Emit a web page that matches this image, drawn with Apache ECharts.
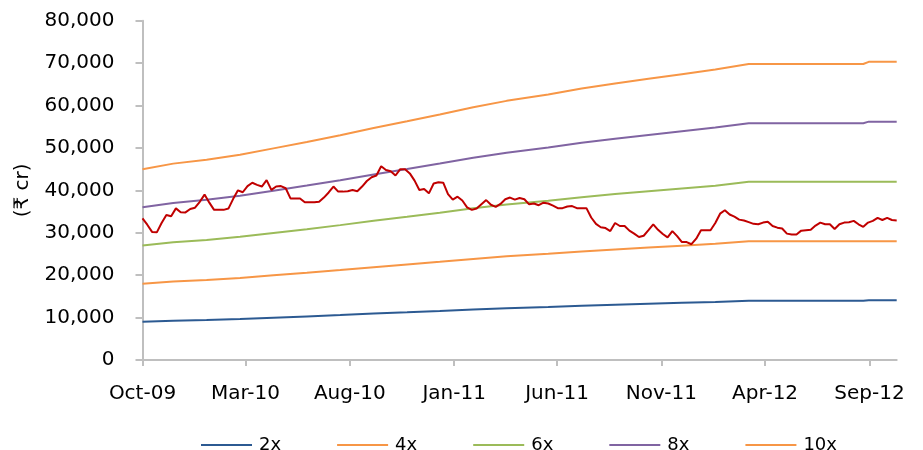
<!DOCTYPE html>
<html><head><meta charset="utf-8">
<script src="https://cdn.jsdelivr.net/npm/echarts@6/dist/echarts.min.js"></script>
<style>html,body{margin:0;padding:0;background:#fff}#c{width:923px;height:450px}</style>
</head><body><div id="c"></div>
<script>
// ---- data ----
const seriesNames = ['2x', '4x', '6x', '8x', '10x'];
const bandDates = ['2009-10-01','2009-11-15','2010-01-03','2010-02-21','2010-04-11','2010-05-30','2010-07-18','2010-09-05','2010-10-24','2010-12-11','2011-01-29','2011-03-19','2011-05-19','2011-07-07','2011-08-25','2011-10-13','2011-12-01','2012-01-19','2012-03-08','2012-08-23','2012-08-31','2012-10-11'];
const band2x  = [9000,9260,9440,9680,9980,10280,10600,10940,11260,11580,11920,12220,12520,12800,13040,13260,13480,13700,13960,13960,14060,14060];
const band4x  = [18000,18520,18880,19360,19960,20560,21200,21880,22520,23160,23840,24440,25040,25600,26080,26520,26960,27400,28000,28000,28000,28000];
const band6x  = [27000,27780,28320,29040,29940,30840,31800,32820,33780,34740,35760,36660,37560,38400,39120,39780,40440,41100,42000,42000,42000,42000];
const band8x  = [36000,37040,37760,38720,39920,41120,42400,43760,45040,46320,47680,48880,50080,51200,52160,53040,53920,54800,55840,55840,56200,56200];
const band10x = [45000,46300,47200,48400,49900,51400,53000,54700,56300,57900,59600,61100,62600,64000,65200,66300,67400,68500,69800,69800,70300,70300];
const priceName = 'Market cap';
const priceStart = '2009-10-01'; // weekly observations
const priceValues = [
  33400,31900,30200,30100,32300,34200,33900,35750,34850,34800,
  35600,35900,37300,39000,37100,35400,35400,35400,35700,38000,
  40000,39550,41000,41800,41300,40900,42400,40100,40900,41000,
  40500,38100,38100,38100,37200,37200,37200,37300,38300,39500,
  40900,39700,39700,39800,40100,39800,40900,42200,43100,43500,
  45700,44800,44500,43500,45000,45000,44000,42300,40100,40300,
  39300,41600,41900,41800,39100,37800,38500,37600,36000,35400,
  35700,36700,37700,36600,36100,36800,37900,38300,37800,38200,
  37900,36700,36900,36500,37100,36900,36400,35800,35800,36200,
  36300,35800,35800,35800,33600,32100,31300,31100,30400,32300,
  31600,31600,30500,29800,29000,29300,30600,32000,30700,29700,
  28900,30400,29200,27800,27800,27300,28600,30600,30600,30600,
  32300,34500,35300,34300,33800,33100,32900,32500,32100,32000,
  32400,32600,31600,31200,31000,29800,29600,29600,30500,30600,
  30700,31700,32400,32000,32000,30900,32000,32400,32500,32800,
  32000,31400,32400,32800,33500,33000,33500,33000,32900
];
const tickDates  = ['2009-10-01','2010-03-01','2010-08-01','2011-01-01','2011-06-01','2011-11-01','2012-04-01','2012-09-01'];
const tickLabels = ['Oct-09','Mar-10','Aug-10','Jan-11','Jun-11','Nov-11','Apr-12','Sep-12'];
const yMin = 0, yMax = 80000, yStep = 10000;

// ---- build ----
function parseDay(s) { const p = s.split('-').map(Number); return new Date(p[0], p[1] - 1, p[2]).getTime(); }
const ps = priceStart.split('-').map(Number);
const priceData = priceValues.map((v, i) => [new Date(ps[0], ps[1] - 1, ps[2] + 7 * i).getTime(), v]);
const tickTimes = tickDates.map(parseDay);
const bands = [band2x, band4x, band6x, band8x, band10x];
const colors = ['#2C5A92', '#F79646', '#9BBB59', '#8064A2', '#F79646'];
const FONT = 'DejaVu Sans';

const series = seriesNames.map((n, i) => ({
  name: n, type: 'line', symbol: 'none', animation: false,
  data: bandDates.map((d, j) => [parseDay(d), bands[i][j]]),
  lineStyle: { width: 2, color: colors[i] }, itemStyle: { color: colors[i] }
}));
series.push({
  name: priceName, type: 'line', symbol: 'none', animation: false, data: priceData,
  lineStyle: { width: 2, color: '#C00000' }, itemStyle: { color: '#C00000' }, z: 5
});

const chart = echarts.init(document.getElementById('c'), null, { renderer: 'canvas' });
chart.setOption({
  backgroundColor: '#ffffff',
  animation: false,
  textStyle: { fontFamily: FONT },
  grid: { left: 142.5, right: 26.3, top: 20.7, bottom: 90, containLabel: false },
  legend: {
    data: seriesNames, left: 196, top: 431, icon: 'rect', itemWidth: 51, itemHeight: 2, itemGap: 56,
    textStyle: { fontFamily: FONT, fontSize: 18, color: '#000', padding: [0, 0, 0, 2] }
  },
  xAxis: {
    type: 'value',
    min: parseDay(priceStart),
    max: priceData[priceData.length - 1][0],
    scale: true,
    splitLine: { show: false },
    axisLine: { onZero: false, lineStyle: { color: '#BFBFBF', width: 2 } },
    axisTick: { show: true, length: 6, customValues: tickTimes, lineStyle: { color: '#BFBFBF', width: 2 } },
    axisLabel: {
      customValues: tickTimes, margin: 24, fontFamily: FONT, fontSize: 20, color: '#000',
      formatter: (v) => { const k = tickTimes.indexOf(v); return k >= 0 ? tickLabels[k] : ''; }
    }
  },
  yAxis: {
    type: 'value', min: yMin, max: yMax, interval: yStep,
    name: '(₹ cr)', nameLocation: 'middle', nameRotate: 90, nameGap: 110,
    nameTextStyle: { fontFamily: FONT, fontSize: 20, color: '#000' },
    splitLine: { show: false },
    axisLine: { show: true, lineStyle: { color: '#BFBFBF', width: 2 } },
    axisTick: { show: true, length: 7, lineStyle: { color: '#BFBFBF', width: 2 } },
    axisLabel: {
      margin: 28, fontFamily: FONT, fontSize: 20, color: '#000',
      formatter: (v) => v.toLocaleString('en-US')
    }
  },
  series
});
</script></body></html>
